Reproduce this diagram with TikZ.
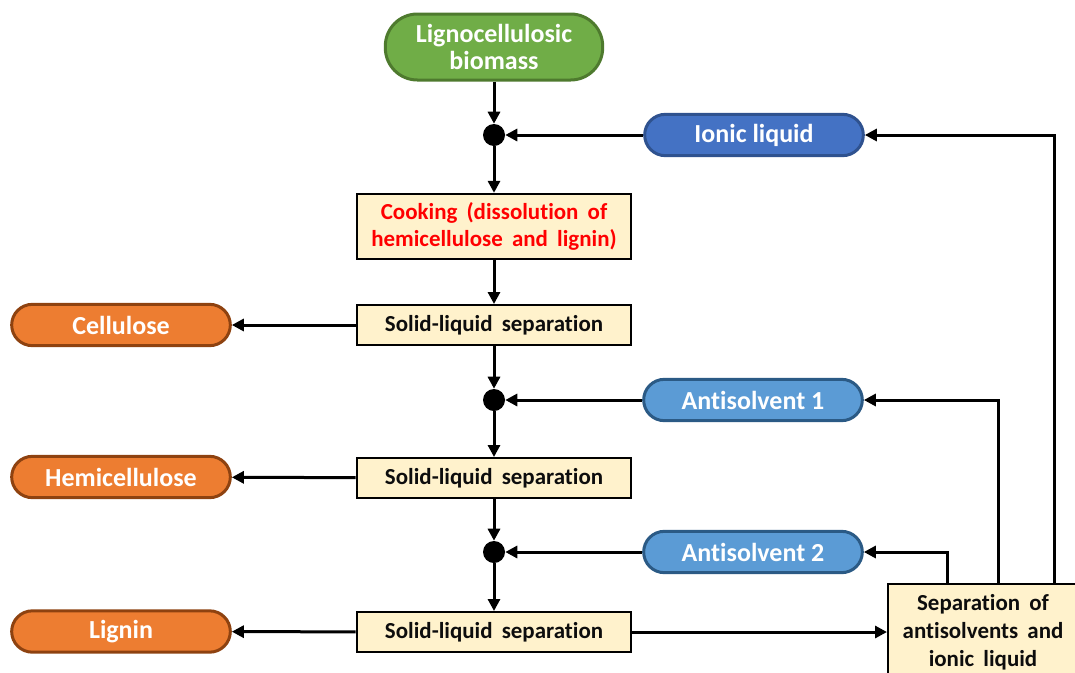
\documentclass[tikz,border=0pt]{standalone}
\usepackage{fontspec}
\setmainfont{Carlito}[Ligatures=NoCommon]
\usetikzlibrary{arrows.meta}
\newcommand{\boxfont}{\bfseries\fontsize{17.2}{20.5}\selectfont\spaceskip=0.4em plus 0.1em\relax}
\newcommand{\sepfont}{\bfseries\fontsize{17.2}{21}\selectfont\spaceskip=0.4em plus 0.1em\relax}
\definecolor{gfill}{HTML}{70AD47}
\definecolor{gline}{HTML}{4E7A2E}
\definecolor{bfill}{HTML}{4472C4}
\definecolor{bline}{HTML}{2F528F}
\definecolor{lbfill}{HTML}{5B9BD5}
\definecolor{lbline}{HTML}{2B5A85}
\definecolor{ofill}{HTML}{ED7D31}
\definecolor{oline}{HTML}{8E4210}
\definecolor{boxfill}{HTML}{FFF2CC}
\definecolor{txtdark}{HTML}{0D0D0D}
\begin{document}
\begin{tikzpicture}[x=0.75pt,y=-0.75pt,
  pill/.style={draw, line width=2.25pt, rounded corners=15.5pt, minimum width=164pt, minimum height=31pt, inner sep=0pt, text=white, font=\bfseries\fontsize{19.5}{20}\selectfont, align=center},
  greenpill/.style={pill, fill=gfill, draw=gline, minimum width=163pt, minimum height=49.5pt, rounded corners=24pt},
  bluepill/.style={pill, fill=bfill, draw=bline},
  lbluepill/.style={pill, fill=lbfill, draw=lbline},
  orangepill/.style={pill, fill=ofill, draw=oline},
  procbox/.style={draw=black, line width=1.5pt, fill=boxfill, minimum width=206pt, minimum height=30pt, inner sep=0pt, text=txtdark, font=\boxfont, align=center},
  junction/.style={circle, fill=black, minimum size=16.5pt, inner sep=0pt},
  arr/.style={line width=2.25pt, -{Triangle[length=9pt,width=9pt]}}
]
\useasboundingbox (0,0) rectangle (1075,672);

% nodes
\node[greenpill] (bio) at (494,47) {Lignocellulosic\\biomass};
\node[junction] (d1) at (494,135) {};
\node[bluepill] (ionic) at (754,135) {Ionic liquid};
\node[procbox, minimum height=49pt, text=red] (cook) at (494,226.5) {Cooking (dissolution of\\hemicellulose and lignin)};
\node[procbox] (sls1) at (494,325) {Solid-liquid separation};
\node[orangepill] (cell) at (121,325) {Cellulose};
\node[junction] (d2) at (494,400) {};
\node[lbluepill] (as1) at (753,400) {Antisolvent 1};
\node[procbox] (sls2) at (494,478) {Solid-liquid separation};
\node[orangepill] (hemi) at (121,477) {Hemicellulose};
\node[junction] (d3) at (494,552) {};
\node[lbluepill] (as2) at (753,552) {Antisolvent 2};
\node[procbox] (sls3) at (494,632) {Solid-liquid separation};
\node[orangepill] (lig) at (121,631.5) {Lignin};
\node[procbox, minimum width=142.5pt, minimum height=72pt, font=\sepfont] (sep) at (983,632) {Separation of\\antisolvents and\\ionic liquid};

\coordinate (c1) at (947,0);
\coordinate (c2) at (998,0);
\coordinate (c3) at (1054,0);

% connectors
\draw[arr] (bio) -- (d1);
\draw[arr] (ionic) -- (d1);
\draw[arr] (d1) -- (cook);
\draw[arr] (cook) -- (sls1);
\draw[arr] (sls1) -- (cell);
\draw[arr] (sls1) -- (d2);
\draw[arr] (as1) -- (d2);
\draw[arr] (d2) -- (sls2);
\draw[arr] (sls2) -- (hemi);
\draw[arr] (sls2) -- (d3);
\draw[arr] (as2) -- (d3);
\draw[arr] (d3) -- (sls3);
\draw[arr] (sls3) -- (lig);
\draw[arr] (sls3) -- (sep);
\draw[arr] (sep.north -| c1) |- (as2.east);
\draw[arr] (sep.north -| c2) |- (as1.east);
\draw[arr] (sep.north -| c3) |- (ionic.east);
\end{tikzpicture}
\end{document}
